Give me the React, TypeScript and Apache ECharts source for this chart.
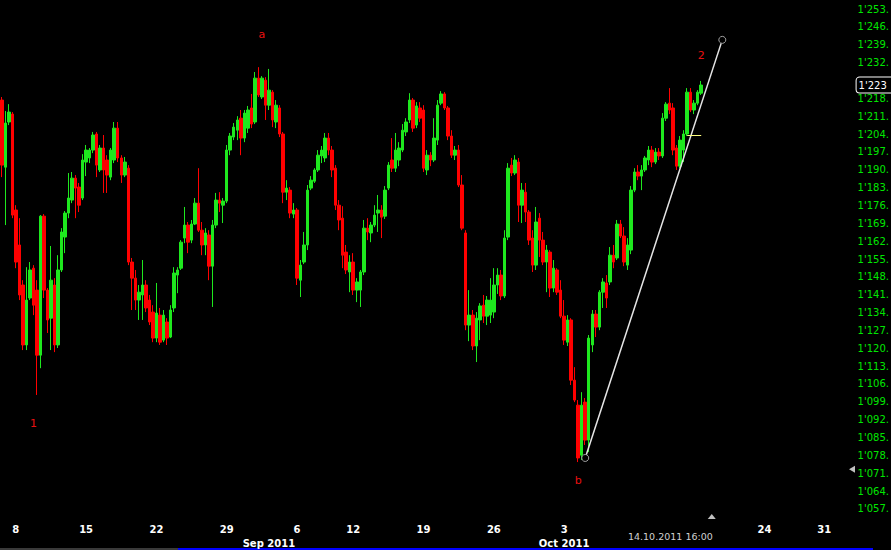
import { useEffect, useRef } from 'react';
import * as echarts from 'echarts';

// Hourly-ish bars (4 per trading day), [open, close, low, high]
const ohlc: number[][] = [
  [1217.3, 1191.8, 1187.1, 1218.5], [1191.0, 1208.3, 1168.3, 1213.0], [1208.7, 1212.6, 1207.5, 1215.7], [1211.8, 1172.2, 1171.0, 1212.6],
  [1174.2, 1153.8, 1151.4, 1176.1], [1160.5, 1140.9, 1138.9, 1171.0], [1144.8, 1121.3, 1119.3, 1146.7], [1121.3, 1138.9, 1119.3, 1151.8],
  [1139.7, 1150.7, 1138.9, 1153.8], [1151.4, 1136.9, 1133.0, 1152.6], [1142.8, 1117.3, 1101.7, 1146.7], [1117.3, 1171.8, 1112.2, 1172.2],
  [1171.8, 1142.8, 1139.7, 1172.6], [1142.8, 1131.1, 1126.0, 1143.6], [1131.8, 1146.7, 1119.3, 1160.1], [1144.8, 1121.3, 1118.5, 1147.5],
  [1121.3, 1150.7, 1120.1, 1156.5], [1150.7, 1165.6, 1149.9, 1167.1], [1163.6, 1173.0, 1157.3, 1173.8], [1173.0, 1178.9, 1171.0, 1188.7],
  [1178.1, 1186.7, 1176.9, 1189.1], [1186.7, 1182.8, 1171.0, 1187.9], [1183.2, 1176.1, 1173.4, 1184.8], [1178.9, 1193.8, 1178.1, 1196.1],
  [1193.0, 1197.7, 1187.5, 1199.7], [1194.6, 1197.7, 1192.6, 1198.5], [1197.7, 1203.6, 1196.5, 1204.8], [1204.0, 1191.8, 1187.1, 1204.8],
  [1189.9, 1198.5, 1189.1, 1199.7], [1198.5, 1189.9, 1180.9, 1203.6], [1193.8, 1187.9, 1180.9, 1195.7], [1187.1, 1197.7, 1185.9, 1198.5],
  [1193.8, 1206.3, 1192.6, 1208.7], [1206.3, 1194.6, 1193.0, 1208.7], [1194.6, 1187.9, 1184.8, 1195.7], [1187.9, 1193.0, 1187.1, 1195.0],
  [1190.6, 1153.8, 1152.6, 1191.8], [1153.8, 1147.5, 1135.0, 1155.4], [1147.5, 1138.9, 1135.0, 1150.7], [1138.9, 1142.0, 1131.1, 1144.8],
  [1140.9, 1144.8, 1131.1, 1154.6], [1144.8, 1135.8, 1134.2, 1146.7], [1138.9, 1130.3, 1129.1, 1140.9], [1134.2, 1124.0, 1122.4, 1136.9],
  [1124.0, 1133.8, 1122.4, 1145.6], [1133.0, 1122.4, 1121.3, 1135.8], [1123.2, 1133.0, 1122.4, 1135.0], [1130.3, 1124.0, 1121.3, 1131.8],
  [1124.4, 1135.0, 1124.0, 1136.9], [1135.8, 1149.5, 1134.2, 1151.8], [1148.7, 1150.7, 1141.6, 1151.8], [1151.4, 1161.6, 1150.7, 1162.4],
  [1163.2, 1168.3, 1161.2, 1175.4], [1168.3, 1161.6, 1157.3, 1169.5], [1162.4, 1168.7, 1161.2, 1170.3], [1168.7, 1176.9, 1168.3, 1178.9],
  [1176.9, 1166.3, 1165.6, 1190.6], [1166.3, 1160.5, 1156.5, 1169.5], [1160.5, 1165.2, 1156.5, 1167.1], [1164.4, 1152.2, 1146.7, 1166.3],
  [1152.2, 1168.3, 1136.2, 1170.3], [1168.3, 1178.1, 1167.1, 1180.9], [1178.1, 1176.9, 1173.4, 1181.2], [1176.1, 1177.7, 1169.1, 1178.9],
  [1177.7, 1197.7, 1176.9, 1199.7], [1197.7, 1203.2, 1195.7, 1204.4], [1202.8, 1206.7, 1201.6, 1208.3], [1205.5, 1209.5, 1201.6, 1211.0],
  [1210.2, 1202.4, 1195.7, 1213.4], [1202.4, 1212.2, 1200.8, 1213.4], [1206.3, 1213.4, 1204.4, 1215.0], [1214.2, 1207.9, 1206.3, 1219.7],
  [1208.7, 1225.9, 1207.9, 1228.3], [1225.9, 1219.3, 1218.5, 1230.2], [1218.5, 1225.9, 1217.7, 1226.7], [1225.1, 1215.3, 1209.5, 1226.3],
  [1215.3, 1221.2, 1213.4, 1229.5], [1220.4, 1209.5, 1206.7, 1221.2], [1208.7, 1215.3, 1206.3, 1217.3], [1214.2, 1204.0, 1202.8, 1215.3],
  [1204.0, 1181.2, 1176.9, 1204.8], [1181.2, 1182.8, 1178.1, 1185.9], [1182.0, 1173.0, 1171.0, 1183.2], [1172.6, 1174.2, 1171.0, 1176.9],
  [1174.2, 1147.5, 1144.8, 1175.0], [1146.7, 1152.6, 1140.1, 1154.6], [1153.8, 1160.5, 1153.0, 1165.6], [1160.5, 1182.0, 1158.5, 1184.0],
  [1182.8, 1185.9, 1182.0, 1187.5], [1185.5, 1189.9, 1184.8, 1190.6], [1189.9, 1195.7, 1189.1, 1197.7], [1195.4, 1197.7, 1192.6, 1199.3],
  [1194.6, 1202.4, 1193.0, 1204.4], [1202.4, 1197.7, 1195.7, 1204.4], [1197.7, 1189.9, 1187.1, 1199.3], [1190.6, 1176.1, 1174.2, 1191.8],
  [1176.1, 1170.3, 1166.3, 1178.1], [1171.0, 1156.5, 1151.4, 1175.7], [1157.7, 1150.7, 1149.1, 1160.5], [1149.9, 1153.8, 1142.0, 1156.5],
  [1153.8, 1142.8, 1140.9, 1157.3], [1142.8, 1146.0, 1138.1, 1147.5], [1142.8, 1149.9, 1136.2, 1150.7], [1149.9, 1167.1, 1148.7, 1170.3],
  [1167.1, 1165.6, 1162.4, 1171.0], [1165.2, 1168.3, 1161.6, 1169.5], [1168.3, 1172.2, 1167.5, 1176.1], [1173.0, 1174.2, 1165.6, 1180.1],
  [1174.2, 1171.4, 1163.2, 1176.1], [1171.8, 1182.0, 1170.7, 1183.6], [1182.8, 1191.8, 1182.0, 1193.0], [1193.8, 1190.6, 1189.1, 1202.4],
  [1190.6, 1197.7, 1189.1, 1204.4], [1193.8, 1198.5, 1191.4, 1200.8], [1197.7, 1205.5, 1196.9, 1207.9], [1204.8, 1208.7, 1203.2, 1210.2],
  [1209.5, 1217.3, 1208.3, 1220.0], [1217.3, 1206.3, 1204.8, 1218.1], [1207.5, 1215.0, 1206.3, 1216.5], [1214.2, 1210.2, 1208.7, 1216.5],
  [1213.4, 1190.6, 1189.1, 1215.3], [1189.9, 1195.7, 1187.9, 1197.7], [1195.7, 1193.8, 1191.4, 1196.9], [1193.8, 1202.4, 1193.0, 1210.2],
  [1201.6, 1215.3, 1199.7, 1217.3], [1216.1, 1219.7, 1215.3, 1220.8], [1219.7, 1214.2, 1213.4, 1220.4], [1214.2, 1203.2, 1201.6, 1215.0],
  [1203.2, 1195.7, 1194.6, 1205.5], [1195.7, 1197.7, 1193.8, 1199.3], [1197.7, 1184.0, 1183.2, 1199.7], [1184.0, 1167.1, 1166.3, 1187.9],
  [1165.2, 1129.1, 1127.1, 1166.3], [1129.1, 1133.0, 1122.8, 1142.8], [1133.0, 1120.9, 1119.3, 1135.0], [1120.9, 1131.8, 1114.6, 1134.2],
  [1131.1, 1136.6, 1123.2, 1137.7], [1136.9, 1132.6, 1129.9, 1140.9], [1132.6, 1138.9, 1129.1, 1140.5], [1133.0, 1138.9, 1129.9, 1147.5],
  [1134.2, 1144.8, 1131.8, 1151.4], [1144.8, 1148.7, 1141.3, 1151.4], [1148.7, 1140.5, 1138.9, 1150.7], [1140.5, 1163.2, 1139.7, 1166.3],
  [1163.6, 1190.6, 1162.4, 1192.6], [1191.8, 1188.7, 1187.5, 1194.6], [1188.7, 1193.8, 1187.9, 1195.7], [1193.0, 1176.1, 1169.5, 1194.6],
  [1176.1, 1182.0, 1169.1, 1184.8], [1181.2, 1173.4, 1169.5, 1184.8], [1173.4, 1162.4, 1160.5, 1174.2], [1163.2, 1152.6, 1149.9, 1166.3],
  [1152.6, 1169.5, 1150.7, 1175.4], [1171.0, 1162.4, 1155.8, 1173.0], [1162.4, 1153.8, 1152.6, 1165.6], [1153.8, 1158.5, 1142.0, 1160.5],
  [1157.7, 1143.6, 1140.1, 1158.5], [1143.6, 1151.4, 1142.0, 1154.6], [1150.7, 1142.0, 1140.9, 1151.4], [1142.8, 1132.6, 1131.8, 1146.7],
  [1132.6, 1123.2, 1121.3, 1138.9], [1122.4, 1131.1, 1120.9, 1133.0], [1131.1, 1107.5, 1105.6, 1131.8], [1107.5, 1099.7, 1098.9, 1112.6],
  [1097.7, 1077.0, 1075.4, 1099.7], [1078.1, 1097.7, 1076.2, 1102.8], [1098.9, 1084.0, 1082.1, 1100.5], [1084.0, 1124.0, 1079.3, 1125.2],
  [1121.3, 1133.4, 1118.5, 1135.0], [1133.4, 1128.3, 1124.4, 1135.0], [1128.3, 1142.0, 1127.1, 1142.8], [1142.0, 1146.0, 1135.8, 1147.5],
  [1145.6, 1139.7, 1135.8, 1148.7], [1146.0, 1156.5, 1144.8, 1159.7], [1156.5, 1153.8, 1151.4, 1160.5], [1155.4, 1168.7, 1154.6, 1170.3],
  [1168.7, 1164.0, 1163.2, 1170.3], [1164.0, 1153.8, 1152.2, 1167.5], [1152.6, 1160.5, 1150.7, 1163.2], [1158.5, 1182.0, 1156.9, 1183.6],
  [1182.0, 1189.1, 1181.2, 1190.6], [1189.1, 1187.5, 1185.9, 1191.8], [1187.5, 1189.9, 1182.0, 1191.8], [1189.9, 1194.6, 1189.1, 1195.4],
  [1193.8, 1197.7, 1191.8, 1199.3], [1197.7, 1193.0, 1191.0, 1199.3], [1193.0, 1196.9, 1192.2, 1198.5], [1196.9, 1195.4, 1193.8, 1198.5],
  [1195.4, 1210.2, 1194.6, 1212.2], [1210.2, 1215.7, 1209.1, 1216.5], [1216.1, 1213.4, 1211.8, 1222.0], [1214.2, 1197.7, 1195.7, 1216.1],
  [1198.5, 1191.4, 1189.9, 1199.7], [1191.4, 1201.6, 1190.6, 1203.2], [1197.7, 1204.0, 1193.0, 1205.5], [1204.0, 1220.4, 1203.2, 1222.0],
  [1220.4, 1213.4, 1212.6, 1222.0], [1213.4, 1216.1, 1211.8, 1217.3], [1216.1, 1220.4, 1215.3, 1221.2], [1220.0, 1223.2, 1219.3, 1224.8],
];

const FUTURE_SLOTS = 42;
const categories: string[] = [
  ...ohlc.map((_, i) => `b${i}`),
  ...Array.from({ length: FUTURE_SLOTS }, (_, i) => `f${i}`),
];

// x tick labels: [slot index, text]
const dayTicks: [number, string][] = [
  [4, '8'], [24, '15'], [44, '22'], [64, '29'], [84, '6'], [100, '12'],
  [120, '19'], [140, '26'], [160, '3'], [217, '24'], [234, '31'],
];
const monthTicks: [number, string][] = [[76, 'Sep 2011'], [160, 'Oct 2011']];

const priceTicks = [
  1057, 1064, 1071, 1078, 1085, 1092, 1099, 1106, 1113, 1120, 1127, 1134, 1141, 1148,
  1155, 1162, 1169, 1176, 1183, 1190, 1197, 1204, 1211, 1218, 1232, 1239, 1246, 1253,
];

const lastPrice = 1223.2;
const trendStart: [number, number] = [166, 1077.0];
const trendEnd: [number, number] = [205, 1240.9];
const levelLine: [number, number, number] = [195, 199, 1203.6];
const waveLabels: [number, number, string][] = [
  [9, 1090.7, '1'], [74, 1243.2, 'a'], [164, 1068.0, 'b'], [199, 1234.9, '2'],
];
const cursorSlot = 202;
const cursorPrice = 1072.6;
const cursorLabel = '14.10.2011 16:00';

// visible part of the price labels (the rest is cut off by the window edge in the original)
const fmtTick = (v: number) => {
  const th = Math.floor(v / 1000);
  const rest = Math.round(v - th * 1000);
  return `${th}'${String(rest).padStart(3, '0')}.`;
};
const fmtLast = (v: number) => {
  const th = Math.floor(v / 1000);
  const rest = Math.floor(v - th * 1000);
  return `${th}'${String(rest).padStart(3, '0')}`;
};

export default function App() {
  const ref = useRef<HTMLDivElement>(null);
  useEffect(() => {
    document.body.style.margin = '0';
    document.body.style.background = '#000';
    if (!ref.current) return;
    const chart = echarts.init(ref.current, undefined, { renderer: 'svg' });

    const labelMap = new Map<number, string>();
    dayTicks.forEach(([i, t]) => labelMap.set(i, t));
    monthTicks.forEach(([i, t]) => {
      const d = labelMap.get(i);
      labelMap.set(i, `${d ?? ' '}\n${t}`);
    });

    const circleStyle = { color: '#000', borderColor: '#a0a0a0', borderWidth: 1 };

    chart.setOption({
      animation: false,
      backgroundColor: '#000',
      grid: { left: 0, top: 0, width: 850.6, height: 518, containLabel: false, outerBoundsMode: 'none' },
      xAxis: {
        type: 'category',
        data: categories,
        boundaryGap: true,
        axisLine: { show: false },
        axisTick: { show: false },
        splitLine: { show: false },
        axisLabel: {
          interval: (index: number) => labelMap.has(index),
          formatter: (_v: string, index: number) => labelMap.get(index) ?? '',
          color: '#ffffff',
          fontWeight: 'bold',
          fontSize: 10,
          fontFamily: 'DejaVu Sans',
          lineHeight: 14,
          margin: 4,
        },
      },
      yAxis: {
        type: 'value',
        position: 'right',
        min: 1053.47,
        max: 1256.53,
        splitLine: { show: false },
        axisLine: { show: false },
        axisTick: { show: false },
        axisLabel: {
          customValues: priceTicks,
          formatter: (v: number) => fmtTick(v),
          color: '#00e600',
          fontSize: 10,
          fontFamily: 'DejaVu Sans',
          margin: 7,
        },
      },
      series: [
        {
          type: 'candlestick',
          data: ohlc,
          barWidth: 3,
          itemStyle: {
            color: '#1ee81e',
            color0: '#ff0000',
            borderColor: '#1ee81e',
            borderColor0: '#ff0000',
            borderWidth: 1,
          },
          markLine: {
            silent: true,
            symbol: 'none',
            animation: false,
            label: { show: false },
            data: [
              [
                { coord: [categories[trendStart[0]], trendStart[1]], lineStyle: { color: '#e6e6e6', width: 1.5, type: 'solid' } },
                { coord: [categories[trendEnd[0]], trendEnd[1]] },
              ],
              [
                { coord: [categories[levelLine[0]], levelLine[2]], lineStyle: { color: '#ffff80', width: 1, type: 'solid' } },
                { coord: [categories[levelLine[1]], levelLine[2]] },
              ],
              {
                yAxis: lastPrice,
                lineStyle: { color: 'rgba(0,0,0,0)', width: 1, type: 'solid' },
                label: {
                  show: true,
                  position: 'end',
                  distance: 6,
                  formatter: fmtLast(lastPrice),
                  color: '#ffffff',
                  fontSize: 10,
                  fontFamily: 'DejaVu Sans',
                  backgroundColor: '#000',
                  borderColor: '#ffffff',
                  borderWidth: 1,
                  borderRadius: 3,
                  padding: [3, 8, 2, 2],
                },
              },
            ],
          },
          markPoint: {
            silent: true,
            animation: false,
            data: [
              { coord: [categories[trendStart[0]], trendStart[1]], symbol: 'circle', symbolSize: 7, itemStyle: circleStyle, label: { show: false } },
              { coord: [categories[trendEnd[0]], trendEnd[1]], symbol: 'circle', symbolSize: 7, itemStyle: circleStyle, label: { show: false } },
              ...waveLabels.map(([i, p, t]) => ({
                coord: [categories[i], p],
                symbol: 'circle',
                symbolSize: 1,
                itemStyle: { color: 'rgba(0,0,0,0)' },
                label: {
                  show: true,
                  position: 'inside',
                  formatter: t,
                  color: '#e81010',
                  fontSize: 11,
                  fontFamily: 'DejaVu Sans',
                },
              })),
            ],
          },
        },
      ],
    });

    const cx = chart.convertToPixel({ xAxisIndex: 0 }, categories[cursorSlot]) as number;
    const cy = chart.convertToPixel({ yAxisIndex: 0 }, cursorPrice) as number;

    chart.setOption({
      graphic: [
        { type: 'rect', shape: { x: 0, y: 548, width: 178, height: 2 }, style: { fill: '#3a3a3a' } },
        { type: 'rect', shape: { x: 178, y: 548, width: 695, height: 2 }, style: { fill: '#0000ff' } },
        {
          type: 'text',
          x: cx + 1,
          y: 536,
          style: {
            text: cursorLabel,
            fill: '#d0d0d0',
            font: '9.5px "DejaVu Sans"',
            align: 'right',
            verticalAlign: 'middle',
            textAlign: 'right',
            textVerticalAlign: 'middle',
          },
        },
        { type: 'polygon', shape: { points: [[cx - 4, 519], [cx + 4, 519], [cx, 514]] }, style: { fill: '#c0c0c0' } },
        { type: 'polygon', shape: { points: [[849, cy], [855, cy - 3.5], [855, cy + 3.5]] }, style: { fill: '#c0c0c0' } },
      ],
    });

    return () => chart.dispose();
  }, []);

  return <div ref={ref} style={{ width: 891, height: 550 }} />;
}
